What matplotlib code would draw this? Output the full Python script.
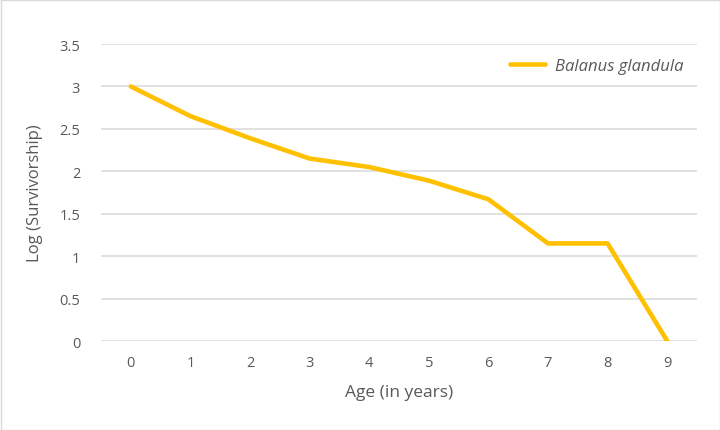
import matplotlib
matplotlib.use("Agg")
import matplotlib.pyplot as plt
from matplotlib.patches import Rectangle

ages = [0, 1, 2, 3, 4, 5, 6, 7, 8, 9]
log_survivorship = [3.0, 2.65, 2.39, 2.15, 2.05, 1.89, 1.67, 1.15, 1.15, 0.0]
series_name = "Balanus glandula"
y_ticks = [0, 0.5, 1, 1.5, 2, 2.5, 3, 3.5]
y_tick_labels = ["0", "0.5", "1", "1.5", "2", "2.5", "3", "3.5"]

plt.rcParams['font.family'] = ['Open Sans', 'DejaVu Sans']
text_color = "#595959"
grid_color = "#D9D9D9"

fig = plt.figure(figsize=(7.2, 4.31), dpi=100)
ax = fig.add_axes([101/720, 1 - 342/431, (697-101)/720, (342-45)/431])

for y in y_ticks:
    ax.axhline(y, color=grid_color, lw=1.1, zorder=1)

ax.plot(ages, log_survivorship, color="#FFC000", lw=3.3, solid_capstyle="round",
        solid_joinstyle="round", zorder=3, label=series_name)

ax.set_xlim(-0.5, 9.5)
ax.set_ylim(0, 3.5)
ax.set_xticks(ages)
ax.set_xticklabels([str(a) for a in ages])
ax.set_yticks(y_ticks)
ax.set_yticklabels(y_tick_labels)
ax.tick_params(axis='both', length=0, labelsize=10.5, colors=text_color)
ax.tick_params(axis='x', pad=10)
ax.tick_params(axis='y', pad=15)
for s in ax.spines.values():
    s.set_visible(False)
ax.set_xlabel("Age (in years)", fontsize=12.5, color=text_color, labelpad=10)
ax.set_ylabel("Log (Survivorship)", fontsize=12, color=text_color, labelpad=12)

leg = ax.legend(loc="upper right", bbox_to_anchor=(1.003, 1.005), frameon=False,
                prop={'style': 'italic', 'size': 12}, handlelength=2.1,
                handletextpad=0.6)
for t in leg.get_texts():
    t.set_color(text_color)

fig.patches.append(Rectangle((0.5/720, 0.5/431), 1 - 1/720, 1 - 1/431,
                             transform=fig.transFigure, fill=False,
                             edgecolor=grid_color, lw=1))

fig.savefig("out.png", dpi=100)
